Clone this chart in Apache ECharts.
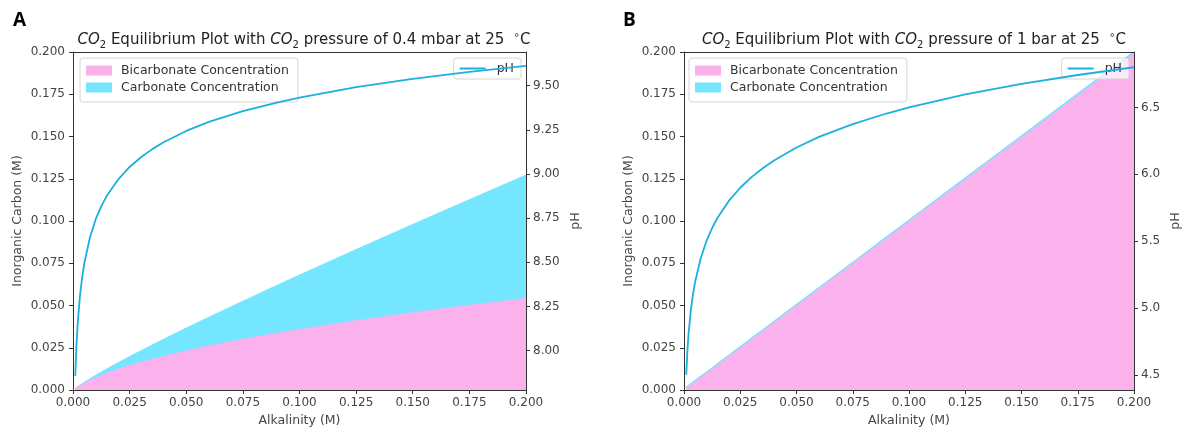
<!DOCTYPE html>
<html>
<head>
<meta charset="utf-8">
<script src="https://cdn.jsdelivr.net/npm/echarts@6/dist/echarts.min.js"></script>
<style>html,body{margin:0;padding:0;background:#fff;}#c{width:1183px;height:429px;}</style>
</head>
<body>
<div id="c"></div>
<script>
// ---- data ----
const alkalinity = [0.001, 0.0015, 0.002, 0.003, 0.004, 0.005, 0.0075, 0.01, 0.0125, 0.015, 0.02, 0.025, 0.03, 0.035, 0.04, 0.05, 0.06, 0.075, 0.09, 0.1, 0.125, 0.15, 0.175, 0.2];

// Panel A: pCO2 = 0.4 mbar
const bicarbA = [0.000955, 0.001403, 0.001834, 0.002653, 0.003422, 0.00415, 0.005824, 0.007339, 0.008733, 0.01003, 0.0124, 0.01455, 0.01652, 0.01836, 0.02008, 0.02326, 0.02617, 0.03014, 0.03375, 0.0360, 0.04119, 0.0459, 0.05025, 0.05431];
const carbonateA = [0.0000225, 0.0000486, 0.000083, 0.000174, 0.000289, 0.000425, 0.000838, 0.001331, 0.001884, 0.002485, 0.0038, 0.005225, 0.00674, 0.00832, 0.00996, 0.01337, 0.016915, 0.02243, 0.028125, 0.032, 0.041905, 0.05205, 0.062375, 0.072845];
const pHA = [7.857, 8.024, 8.140, 8.301, 8.411, 8.495, 8.642, 8.743, 8.818, 8.878, 8.970, 9.040, 9.095, 9.141, 9.180, 9.244, 9.295, 9.356, 9.405, 9.433, 9.492, 9.539, 9.578, 9.612];

// Panel B: pCO2 = 1 bar
const bicarbB = [0.001, 0.0015, 0.002, 0.003, 0.004, 0.005, 0.0075, 0.01, 0.0125, 0.015, 0.01999, 0.02499, 0.02998, 0.03498, 0.03997, 0.04995, 0.05993, 0.07489, 0.08984, 0.0998, 0.12469, 0.14956, 0.174395, 0.19921];
const carbonateB = [0.00000001, 0.00000002, 0.00000004, 0.00000009, 0.00000016, 0.00000025, 0.00000056, 0.000001, 0.0000015, 0.0000022, 0.000004, 0.0000062, 0.0000089, 0.0000121, 0.0000158, 0.0000247, 0.0000356, 0.0000555, 0.00008, 0.0000985, 0.000154, 0.00022, 0.0003, 0.000392];
const pHB = [4.502, 4.678, 4.803, 4.979, 5.104, 5.201, 5.377, 5.502, 5.599, 5.678, 5.803, 5.900, 5.979, 6.046, 6.104, 6.201, 6.280, 6.376, 6.455, 6.501, 6.598, 6.677, 6.743, 6.801];

// tick labels
const xTicks = [0, 0.025, 0.05, 0.075, 0.1, 0.125, 0.15, 0.175, 0.2];
const pHTicksA = [8.00, 8.25, 8.50, 8.75, 9.00, 9.25, 9.50];
const pHTicksB = [4.5, 5.0, 5.5, 6.0, 6.5];
const pHRangeA = [7.777, 9.691];
const pHRangeB = [4.3875, 6.915];

// ---- styling ----
const FONT = 'DejaVu Sans';
const PINK = '#FBB1EC';
const CYAN = '#74E6FF';
const LINE = '#1BB0DD';
const AXC = '#333';
const TXT = '#444';
const TICK_FS = 12;
const LAB_FS = 12.5;

const pairs = (xs, ys) => xs.map((x, i) => [x, ys[i]]);
const sums = (a, b) => a.map((v, i) => v + b[i]);

function xAxisBottom(grid) {
  return {
    gridIndex: grid, type: 'value', min: 0, max: 0.2, interval: 0.025, position: 'bottom', z: 5,
    name: 'Alkalinity (M)', nameLocation: 'middle', nameGap: 23,
    nameTextStyle: { fontFamily: FONT, fontSize: LAB_FS, color: TXT },
    axisLine: { show: true, onZero: false, lineStyle: { color: AXC, width: 1 } },
    axisTick: { show: true, length: 4, lineStyle: { color: AXC } },
    axisLabel: { fontFamily: FONT, fontSize: TICK_FS, color: TXT, margin: 7, formatter: v => v.toFixed(3) },
    splitLine: { show: false }
  };
}
function xAxisTop(grid) {
  return {
    gridIndex: grid, type: 'value', min: 0, max: 0.2, position: 'top', z: 5,
    axisLine: { show: true, onZero: false, lineStyle: { color: AXC, width: 1 } },
    axisTick: { show: false }, axisLabel: { show: false }, splitLine: { show: false }
  };
}
function yAxisLeft(grid) {
  return {
    gridIndex: grid, type: 'value', min: 0, max: 0.2, interval: 0.025, position: 'left', z: 5,
    name: 'Inorganic Carbon (M)', nameLocation: 'middle', nameRotate: 90, nameGap: 49,
    nameTextStyle: { fontFamily: FONT, fontSize: LAB_FS, color: TXT },
    axisLine: { show: true, onZero: false, lineStyle: { color: AXC, width: 1 } },
    axisTick: { show: true, length: 4, lineStyle: { color: AXC } },
    axisLabel: { fontFamily: FONT, fontSize: TICK_FS, color: TXT, margin: 8, formatter: v => v.toFixed(3) },
    splitLine: { show: false }
  };
}
function yAxisRight(grid, range, ticks, dec, gap) {
  return {
    gridIndex: grid, type: 'value', min: range[0], max: range[1], position: 'right', z: 5,
    name: 'pH', nameLocation: 'middle', nameRotate: 90, nameGap: gap,
    nameTextStyle: { fontFamily: FONT, fontSize: LAB_FS, color: TXT },
    axisLine: { show: true, onZero: false, lineStyle: { color: AXC, width: 1 } },
    axisTick: { show: true, length: 4, lineStyle: { color: AXC }, customValues: ticks },
    axisLabel: { fontFamily: FONT, fontSize: TICK_FS, color: TXT, margin: 7, customValues: ticks, formatter: v => v.toFixed(dec) },
    splitLine: { show: false }
  };
}
function areaSeries(name, color, xi, yi, data, z, lw) {
  return {
    name, type: 'line', xAxisIndex: xi, yAxisIndex: yi, data, symbol: 'none', showSymbol: false, z,
    itemStyle: { color }, lineStyle: { color, width: lw }, areaStyle: { color, opacity: 1 }
  };
}
function phSeries(xi, yi, data) {
  return {
    name: 'pH', type: 'line', xAxisIndex: xi, yAxisIndex: yi, data, symbol: 'none', showSymbol: false, z: 4,
    smooth: false,
    itemStyle: { color: LINE }, lineStyle: { color: LINE, width: 1.8 }
  };
}
function titleText(p) {
  return '{i|CO}{s|2} Equilibrium Plot with {i|CO}{s|2} pressure of ' + p + ' at 25  {d|∘}C';
}
const titleRich = {
  i: { fontFamily: FONT, fontSize: 15, fontStyle: 'italic', fontWeight: 'normal', color: '#222', verticalAlign: 'middle', lineHeight: 20 },
  s: { fontFamily: FONT, fontSize: 10, fontWeight: 'normal', color: '#222', verticalAlign: 'bottom', lineHeight: 15 },
  d: { fontFamily: FONT, fontSize: 10, fontWeight: 'normal', color: '#222', verticalAlign: 'top', lineHeight: 13 }
};
function legendAreas(left) {
  return {
    orient: 'vertical', left, top: 58, data: ['Bicarbonate Concentration', 'Carbonate Concentration'],
    icon: 'rect', itemWidth: 26, itemHeight: 10, itemGap: 4,
    backgroundColor: 'rgba(255,255,255,0.75)', borderColor: '#d6d6d6', borderWidth: 1, borderRadius: 3,
    padding: [6, 9, 8, 6], selectedMode: false,
    textStyle: { fontFamily: FONT, fontSize: LAB_FS, color: '#333', padding: [0, 0, 0, 4] }
  };
}
function legendPH(right) {
  return {
    orient: 'vertical', right, top: 58, data: ['pH'],
    icon: 'rect', itemWidth: 26, itemHeight: 2, selectedMode: false,
    backgroundColor: 'rgba(255,255,255,0.7)', borderColor: '#d6d6d6', borderWidth: 1, borderRadius: 3,
    padding: [4, 7, 4, 6],
    textStyle: { fontFamily: FONT, fontSize: LAB_FS, color: '#333', padding: [0, 0, 0, 6] }
  };
}

const option = {
  backgroundColor: '#fff',
  animation: false,
  title: [
    { text: 'A', left: 8, top: 6, textStyle: { fontFamily: 'Open Sans', fontWeight: 'bold', fontSize: 19, color: '#000' } },
    { text: 'B', left: 618, top: 6, textStyle: { fontFamily: 'Open Sans', fontWeight: 'bold', fontSize: 19, color: '#000' } },
    { text: titleText('0.4 mbar'), left: 299, textAlign: 'center', top: 25, textStyle: { rich: titleRich, fontFamily: FONT, fontSize: 15, fontWeight: 'normal', color: '#222' } },
    { text: titleText('1 bar'), left: 909, textAlign: 'center', top: 25, textStyle: { rich: titleRich, fontFamily: FONT, fontSize: 15, fontWeight: 'normal', color: '#222' } }
  ],
  grid: [
    { left: 73, right: 657, top: 52, bottom: 39, show: false, containLabel: false, outerBoundsMode: 'none' },
    { left: 684, right: 49, top: 52, bottom: 39, show: false, containLabel: false, outerBoundsMode: 'none' }
  ],
  xAxis: [xAxisBottom(0), xAxisTop(0), xAxisBottom(1), xAxisTop(1)],
  yAxis: [
    yAxisLeft(0), yAxisRight(0, pHRangeA, pHTicksA, 2, 43),
    yAxisLeft(1), yAxisRight(1, pHRangeB, pHTicksB, 1, 35)
  ],
  legend: [legendAreas(80), legendPH(662), legendAreas(689), legendPH(54)],
  series: [
    areaSeries('Carbonate Concentration', CYAN, 0, 0, pairs(alkalinity, sums(bicarbA, carbonateA)), 2, 1),
    areaSeries('Bicarbonate Concentration', PINK, 0, 0, pairs(alkalinity, bicarbA), 3, 0.5),
    phSeries(0, 1, pairs(alkalinity, pHA)),
    areaSeries('Carbonate Concentration', CYAN, 2, 2, pairs(alkalinity, sums(bicarbB, carbonateB)), 2, 3),
    areaSeries('Bicarbonate Concentration', PINK, 2, 2, pairs(alkalinity, bicarbB), 3, 0.5),
    phSeries(2, 3, pairs(alkalinity, pHB))
  ]
};
const chart = echarts.init(document.getElementById('c'), null, { renderer: 'canvas' });
chart.setOption(option);
</script>
</body>
</html>
